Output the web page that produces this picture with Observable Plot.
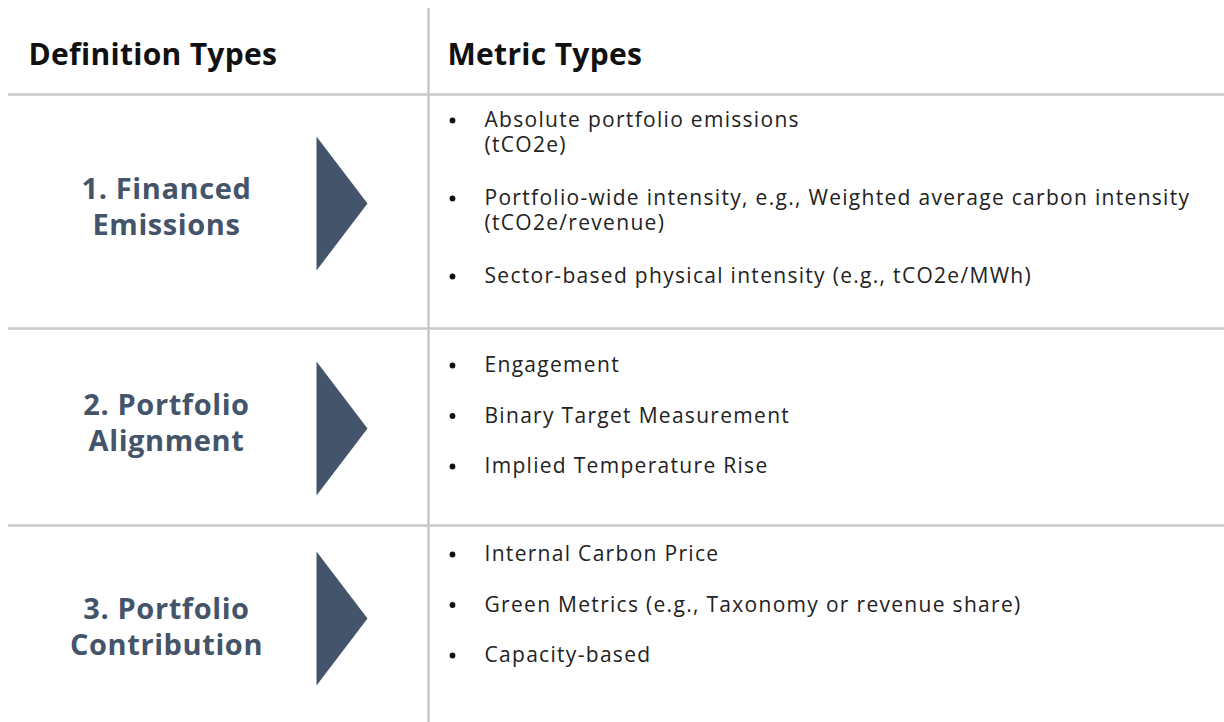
<!DOCTYPE html>
<html><head><meta charset="utf-8">
<script src="https://cdn.jsdelivr.net/npm/d3@7"></script>
<script src="https://cdn.jsdelivr.net/npm/@observablehq/plot@0.6"></script>
<style>
html,body{margin:0;padding:0;background:#fff;}
.hdr text{letter-spacing:0.3px;}
.lbl text{letter-spacing:0.6px;}
.body text{letter-spacing:1.3px;}
</style>
</head><body><div id="chart"></div>
<script>
const headers = ["Definition Types", "Metric Types"];
const definitions = [["1. Financed", "Emissions"], ["2. Portfolio", "Alignment"], ["3. Portfolio", "Contribution"]];
const metrics = [
  [["Absolute portfolio emissions", "(tCO2e)"], ["Portfolio-wide intensity, e.g., Weighted average carbon intensity", "(tCO2e/revenue)"], ["Sector-based physical intensity (e.g., tCO2e/MWh)"]],
  [["Engagement"], ["Binary Target Measurement"], ["Implied Temperature Rise"]],
  [["Internal Carbon Price"], ["Green Metrics (e.g., Taxonomy or revenue share)"], ["Capacity-based"]]
];

// layout
const W = 1224, H = 722;
const rowBounds = [94, 328, 525, 722];
const arrowCenters = [203, 428, 618];
const labelCenters = [205, 421, 625];
const bulletStarts = [119, 364, 553];
const divX = 428;
const navy = "#44546a", grid = "#c8c8c8";
const font = "'Open Sans', sans-serif";
const bodySize = 21, bodyLine = 24.5, labelSize = 29, labelLine = 36.5;

const headerData = headers.map((h, i) => ({x: i === 0 ? 28 : 447, y: 55, t: h}));
const labelData = definitions.map((lines, i) => ({x: 166, y: labelCenters[i], t: lines.join("\n")}));
const arrowData = arrowCenters.flatMap((c, i) => [
  {x: 316, y: c - 67, g: i}, {x: 367, y: c, g: i}, {x: 316, y: c + 67, g: i}, {x: 316, y: c - 67, g: i}
]);
const bulletData = [], itemData = [];
metrics.forEach((items, i) => {
  let y = bulletStarts[i];
  items.forEach(lines => {
    bulletData.push({x: 452, y: y + 1});
    itemData.push({x: 484, y: y + (lines.length - 1) * bodyLine / 2, t: lines.join("\n")});
    y += lines.length === 2 ? 78 : 50.5;
  });
});

const chart = Plot.plot({
  width: W, height: H, margin: 0,
  x: {type: "linear", domain: [0, W], range: [0, W], axis: null},
  y: {type: "linear", domain: [0, H], range: [0, H], axis: null},
  style: {background: "#fff"},
  marks: [
    Plot.ruleX([divX], {y1: 8, y2: H, stroke: grid, strokeWidth: 2.5}),
    Plot.ruleY(rowBounds.slice(0, 3), {x1: 8, x2: W, stroke: grid, strokeWidth: 2.5}),
    Plot.line(arrowData, {x: "x", y: "y", z: "g", fill: navy, stroke: "none"}),
    Plot.text(headerData, {x: "x", y: "y", text: "t", textAnchor: "start", fontSize: 30, fontWeight: "bold", fill: "#111", fontFamily: font, className: "hdr"}),
    Plot.text(labelData, {x: "x", y: "y", text: "t", textAnchor: "middle", lineHeight: labelLine / labelSize, fontSize: labelSize, fontWeight: "bold", fill: navy, fontFamily: font, className: "lbl"}),
    Plot.dot(bulletData, {x: "x", y: "y", r: 2.9, fill: "#111", stroke: "none"}),
    Plot.text(itemData, {x: "x", y: "y", text: "t", textAnchor: "start", lineHeight: bodyLine / bodySize, fontSize: bodySize, fill: "#222", fontFamily: font, className: "body"})
  ]
});
document.getElementById("chart").append(chart);
</script></body></html>
